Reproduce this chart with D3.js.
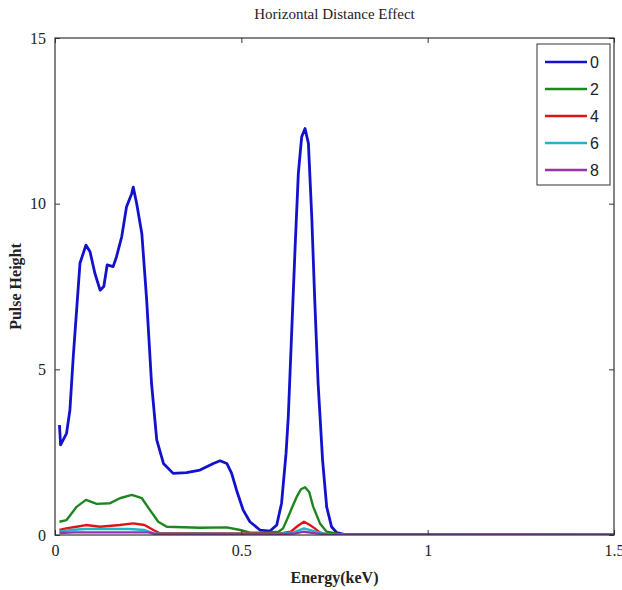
<!DOCTYPE html>
<html>
<head>
<meta charset="utf-8">
<script src="https://cdn.jsdelivr.net/npm/d3@7"></script>
<style>
  body { margin: 0; background: #fff; }
  svg { display: block; }
  .tick text { font-family: "Liberation Serif", "DejaVu Serif", serif; font-size: 16px; fill: #222; }
</style>
</head>
<body>
<svg id="chart" width="622" height="590"></svg>
<script>
  /*
   * Data
   */

  // Series names (horizontal distance)
  var SERIES_NAMES = ["0", "2", "4", "6", "8"];

  var ENERGY_0 = [0.012, 0.015, 0.031, 0.040, 0.049, 0.058, 0.067, 0.083, 0.094, 0.107,
    0.121, 0.131, 0.140, 0.156, 0.165, 0.179, 0.192, 0.206, 0.210, 0.219, 0.233, 0.246,
    0.259, 0.273, 0.291, 0.317, 0.353, 0.389, 0.425, 0.443, 0.461, 0.474, 0.487, 0.505,
    0.523, 0.550, 0.577, 0.595, 0.608, 0.620, 0.626, 0.635, 0.644, 0.653, 0.662, 0.671,
    0.680, 0.689, 0.697, 0.706, 0.718, 0.729, 0.742, 0.756, 0.783, 1.5];
  var PULSE_0 = [3.32, 2.72, 3.07, 3.77, 5.38, 6.79, 8.2, 8.75, 8.55, 7.9,
    7.39, 7.5, 8.15, 8.1, 8.4, 9.0, 9.91, 10.31, 10.5, 10.01, 9.1, 7.09,
    4.58, 2.87, 2.16, 1.86, 1.88, 1.96, 2.16, 2.24, 2.16, 1.86, 1.36, 0.75,
    0.4, 0.15, 0.12, 0.3, 0.96, 2.47, 3.57, 6.09, 8.6, 10.92, 12.02, 12.27,
    11.82, 9.6, 7.09, 4.58, 2.26, 0.85, 0.25, 0.07, 0, 0];

  var ENERGY_2 = [0.012, 0.031, 0.058, 0.083, 0.112, 0.148, 0.174, 0.206, 0.233, 0.255,
    0.277, 0.300, 0.389, 0.461, 0.497, 0.523, 0.577, 0.600, 0.612, 0.622, 0.635, 0.649,
    0.660, 0.671, 0.682, 0.693, 0.711, 0.729, 0.760, 1.5];
  var PULSE_2 = [0.4, 0.45, 0.85, 1.06, 0.94, 0.96, 1.11, 1.21, 1.11, 0.75,
    0.4, 0.25, 0.22, 0.23, 0.15, 0.07, 0.08, 0.1, 0.2, 0.45, 0.8, 1.16,
    1.38, 1.44, 1.3, 0.85, 0.35, 0.1, 0.03, 0];

  var ENERGY_4 = [0.012, 0.030, 0.058, 0.083, 0.121, 0.174, 0.210, 0.240, 0.264, 0.280,
    0.500, 0.600, 0.633, 0.652, 0.668, 0.684, 0.697, 0.711, 0.730, 1.5];
  var PULSE_4 = [0.15, 0.2, 0.25, 0.3, 0.25, 0.3, 0.35, 0.3, 0.15, 0.06,
    0.05, 0.04, 0.1, 0.28, 0.4, 0.3, 0.2, 0.07, 0.02, 0];

  var ENERGY_6 = [0.012, 0.040, 0.083, 0.200, 0.240, 0.265, 0.600, 0.640, 0.668, 0.700, 0.730, 1.5];
  var PULSE_6 = [0.1, 0.15, 0.18, 0.18, 0.15, 0.05, 0.03, 0.08, 0.2, 0.1, 0.02, 0];

  var ENERGY_8 = [0.012, 0.050, 0.250, 0.270, 0.600, 0.645, 0.668, 0.700, 0.730, 1.5];
  var PULSE_8 = [0.06, 0.08, 0.08, 0.03, 0.02, 0.05, 0.1, 0.05, 0.02, 0];

  // Axis ticks
  var X_TICKS = [0, 0.5, 1, 1.5];
  var Y_TICKS = [0, 5, 10, 15];

  /*
   * Layout & styles
   */

  var COLORS = ["#1212cc", "#1f861f", "#e01414", "#22b4c8", "#9432b0"];
  var LINE_WIDTHS = [2.8, 2.4, 2.4, 2.4, 2.4];
  var LEFT = 55, RIGHT = 614, TOP = 38, BOTTOM = 535;
  var TICK_LEN = 5;
  var SERIF = "'Liberation Serif', 'DejaVu Serif', serif";

  var svg = d3.select("#chart");

  var x = d3.scaleLinear().domain([0, 1.5]).range([LEFT, RIGHT]);
  var y = d3.scaleLinear().domain([0, 15]).range([BOTTOM, TOP]);

  var series = [
    [ENERGY_0, PULSE_0],
    [ENERGY_2, PULSE_2],
    [ENERGY_4, PULSE_4],
    [ENERGY_6, PULSE_6],
    [ENERGY_8, PULSE_8]
  ].map(function (s, i) {
    return {
      name: SERIES_NAMES[i],
      points: s[0].map(function (e, j) { return [e, s[1][j]]; })
    };
  });

  // Plot area clip
  svg.append("clipPath").attr("id", "plot_clip")
    .append("rect")
    .attr("x", LEFT).attr("y", TOP - 2)
    .attr("width", RIGHT - LEFT).attr("height", BOTTOM - TOP + 2);

  // Lines
  var line = d3.line()
    .x(function (d) { return x(d[0]); })
    .y(function (d) { return y(d[1]); });

  svg.append("g")
    .attr("clip-path", "url(#plot_clip)")
    .selectAll("path")
    .data(series)
    .enter().append("path")
    .attr("d", function (d) { return line(d.points); })
    .attr("fill", "none")
    .attr("stroke", function (d, i) { return COLORS[i]; })
    .attr("stroke-width", function (d, i) { return LINE_WIDTHS[i]; })
    .attr("stroke-linejoin", "round");

  // Box axes (MATLAB style, ticks inside on all sides)
  function style_axis(g) {
    g.select(".domain").remove();
    g.selectAll(".tick line").attr("stroke", "#333");
  }

  svg.append("g")
    .attr("transform", "translate(0," + BOTTOM + ")")
    .call(d3.axisBottom(x).tickValues(X_TICKS).tickSizeInner(-TICK_LEN).tickSizeOuter(0)
      .tickPadding(10).tickFormat(d3.format("")))
    .call(style_axis);

  svg.append("g")
    .attr("transform", "translate(0," + TOP + ")")
    .call(d3.axisTop(x).tickValues(X_TICKS).tickSizeInner(-TICK_LEN).tickFormat(""))
    .call(style_axis);

  svg.append("g")
    .attr("transform", "translate(" + LEFT + ",0)")
    .call(d3.axisLeft(y).tickValues(Y_TICKS).tickSizeInner(-TICK_LEN).tickSizeOuter(0)
      .tickPadding(9))
    .call(style_axis);

  svg.append("g")
    .attr("transform", "translate(" + RIGHT + ",0)")
    .call(d3.axisRight(y).tickValues(Y_TICKS).tickSizeInner(-TICK_LEN).tickFormat(""))
    .call(style_axis);

  svg.append("rect")
    .attr("x", LEFT).attr("y", TOP)
    .attr("width", RIGHT - LEFT).attr("height", BOTTOM - TOP)
    .attr("fill", "none")
    .attr("stroke", "#333")
    .attr("stroke-width", 1.2);

  // Title & labels
  svg.append("text")
    .attr("x", (LEFT + RIGHT) / 2).attr("y", 19)
    .attr("text-anchor", "middle")
    .style("font-family", SERIF).style("font-size", "15px").style("fill", "#222")
    .text("Horizontal Distance Effect");

  svg.append("text")
    .attr("x", (LEFT + RIGHT) / 2).attr("y", 583)
    .attr("text-anchor", "middle")
    .style("font-family", SERIF).style("font-size", "16px").style("font-weight", "bold")
    .style("fill", "#222")
    .text("Energy(keV)");

  svg.append("text")
    .attr("transform", "translate(21," + (TOP + BOTTOM) / 2 + ") rotate(-90)")
    .attr("text-anchor", "middle")
    .style("font-family", SERIF).style("font-size", "16px").style("font-weight", "bold")
    .style("fill", "#222")
    .text("Pulse Height");

  // Legend
  var LEG_X = 537, LEG_Y = 44, LEG_W = 73, LEG_H = 141;
  var LEG_ROW0 = 62, LEG_STEP = 27;

  var legend = svg.append("g");
  legend.append("rect")
    .attr("x", LEG_X).attr("y", LEG_Y)
    .attr("width", LEG_W).attr("height", LEG_H)
    .attr("fill", "#fff").attr("stroke", "#333").attr("stroke-width", 1);

  var rows = legend.selectAll(".leg")
    .data(series)
    .enter().append("g")
    .attr("transform", function (d, i) { return "translate(0," + (LEG_ROW0 + i * LEG_STEP) + ")"; });

  rows.append("line")
    .attr("x1", 545).attr("x2", 587)
    .attr("stroke", function (d, i) { return COLORS[i]; })
    .attr("stroke-width", 2.4);

  rows.append("text")
    .attr("x", 590).attr("dy", "0.35em")
    .style("font-family", "'Liberation Sans', Arial, sans-serif").style("font-size", "16px")
    .style("fill", "#222")
    .text(function (d) { return d.name; });
</script>
</body>
</html>
